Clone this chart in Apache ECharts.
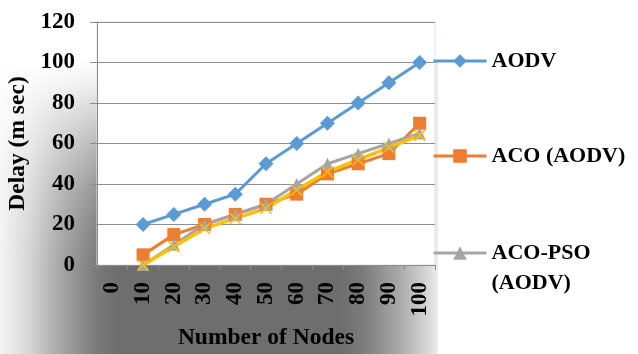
<!DOCTYPE html>
<html>
<head>
<meta charset="utf-8">
<script src="https://cdn.jsdelivr.net/npm/echarts@6/dist/echarts.min.js"></script>
<style>
  html, body { margin: 0; padding: 0; background: #ffffff; }
  #chart { width: 638px; height: 354px; }
</style>
</head>
<body>
<div id="chart"></div>
<script>
// Number of nodes on the x axis
const nodes = ['0', '10', '20', '30', '40', '50', '60', '70', '80', '90', '100'];

// Delay (m sec) per protocol; no measurement at 0 nodes
const aodv   = [null, 20, 25, 30, 35, 50, 60, 70, 80, 90, 100];
const aco    = [null, 5, 15, 20, 25, 30, 35, 45, 50, 55, 70];
const acoPso = [null, 0, 10, 20, 25, 30, 40, 50, 55, 60, 65];
const series4 = [null, 0, 9, 18, 23, 28, 37, 46, 52, 58, 64];

// Value axis range
const yMin = 0, yMax = 120, yStep = 20;

const FONT = '"Liberation Serif", "Times New Roman", serif';
const textBase = { fontFamily: FONT, fontWeight: 'bold', color: '#000000', fontSize: 22 };
const tickText = Object.assign({}, textBase, { fontSize: 23 });
const nameText = Object.assign({}, textBase, { fontSize: 23.5 });

const chart = echarts.init(document.getElementById('chart'), null, { renderer: 'canvas' });

function legendFor(name, top, extra) {
  return Object.assign({
    data: [name],
    orient: 'vertical',
    left: 432,
    top: top,
    padding: 0,
    itemWidth: 53,
    itemHeight: 17,
    selectedMode: false,
    lineStyle: { width: 3 },
    textStyle: Object.assign({}, textBase)
  }, extra || {});
}

chart.setOption({
  backgroundColor: '#ffffff',
  animation: false,
  graphic: [
    {
      // grey shading band behind the axes, darkest under the plot
      type: 'rect', z: -10, silent: true,
      shape: { x: 0, y: 60, width: 438, height: 294 },
      style: {
        fill: {
          type: 'linear', global: true, x: 0, y: 0, x2: 438, y2: 0,
          colorStops: [
            { offset: 0, color: '#f4f4f4' },
            { offset: 0.068, color: '#d5d5d5' },
            { offset: 0.136, color: '#a8a8a8' },
            { offset: 0.22, color: '#7a7a7a' },
            { offset: 0.27, color: '#6e6e6e' },
            { offset: 0.78, color: '#6e6e6e' },
            { offset: 0.83, color: '#7c7c7c' },
            { offset: 0.86, color: '#8c8c8c' },
            { offset: 0.91, color: '#a8a8a8' },
            { offset: 0.95, color: '#c4c4c4' },
            { offset: 0.985, color: '#dedede' },
            { offset: 1, color: '#eeeeee' }
          ]
        }
      }
    },
    {
      // fade the shading out towards the top on the left side
      type: 'rect', z: -10, silent: true,
      shape: { x: 0, y: 60, width: 100, height: 205 },
      style: {
        fill: {
          type: 'linear', global: true, x: 0, y: 60, x2: 0, y2: 265,
          colorStops: [
            { offset: 0, color: 'rgba(255,255,255,1)' },
            { offset: 0.1, color: 'rgba(255,255,255,0.9)' },
            { offset: 0.24, color: 'rgba(255,255,255,0.7)' },
            { offset: 0.44, color: 'rgba(255,255,255,0.44)' },
            { offset: 0.63, color: 'rgba(255,255,255,0.22)' },
            { offset: 0.83, color: 'rgba(255,255,255,0.07)' },
            { offset: 1, color: 'rgba(255,255,255,0)' }
          ]
        }
      }
    }
  ],
  legend: [
    legendFor('AODV', 50),
    legendFor('ACO (AODV)', 145),
    legendFor('ACO-PSO (AODV)', 208, {
      formatter: () => ' \nACO-PSO\n(AODV)',
      textStyle: Object.assign({}, textBase, { lineHeight: 30 })
    })
  ],
  grid: {
    left: 97, right: 203, top: 22, bottom: 89,
    containLabel: false,
    outerBoundsMode: 'none',
    show: true,
    backgroundColor: '#ffffff',
    borderColor: '#dde5f0',
    borderWidth: 1
  },
  xAxis: {
    type: 'category',
    data: nodes,
    boundaryGap: true,
    name: 'Number of Nodes',
    nameLocation: 'middle',
    nameGap: 61,
    nameTextStyle: nameText,
    axisLine: { show: true, lineStyle: { color: '#8c8c8c', width: 1 } },
    axisTick: { show: true, interval: 0, length: 5, lineStyle: { color: '#8c8c8c' } },
    axisLabel: Object.assign({}, tickText, { rotate: 90, margin: 17, interval: 0 }),
    splitLine: { show: false }
  },
  yAxis: {
    type: 'value',
    min: yMin, max: yMax, interval: yStep,
    name: 'Delay (m sec)',
    nameLocation: 'middle',
    nameGap: 67,
    nameRotate: 90,
    nameTextStyle: nameText,
    axisLine: { show: true, lineStyle: { color: '#8c8c8c', width: 1 } },
    axisTick: { show: true, length: 7, lineStyle: { color: '#8c8c8c' } },
    axisLabel: Object.assign({}, tickText, { margin: 22 }),
    splitLine: { show: true, lineStyle: { color: '#8f8f8f', width: 1 } }
  },
  series: [
    {
      name: 'AODV', type: 'line', data: aodv,
      symbol: 'diamond', symbolSize: 15,
      lineStyle: { color: '#5B9BD5', width: 3 },
      itemStyle: { color: '#5B9BD5' }
    },
    {
      name: 'ACO (AODV)', type: 'line', data: aco,
      symbol: 'rect', symbolSize: 13,
      lineStyle: { color: '#ED7D31', width: 3 },
      itemStyle: { color: '#ED7D31' }
    },
    {
      name: 'ACO-PSO (AODV)', type: 'line', data: acoPso,
      symbol: 'triangle', symbolSize: 12,
      lineStyle: { color: '#A5A5A5', width: 3 },
      itemStyle: { color: '#A5A5A5' }
    },
    {
      name: 'Series 4', type: 'line', data: series4,
      symbol: 'path://M0,0L10,10M10,0L0,10', symbolSize: 11,
      lineStyle: { color: '#FFC000', width: 3.5 },
      itemStyle: { color: 'none', borderColor: '#FFC000', borderWidth: 1.5 }
    }
  ]
});
</script>
</body>
</html>
